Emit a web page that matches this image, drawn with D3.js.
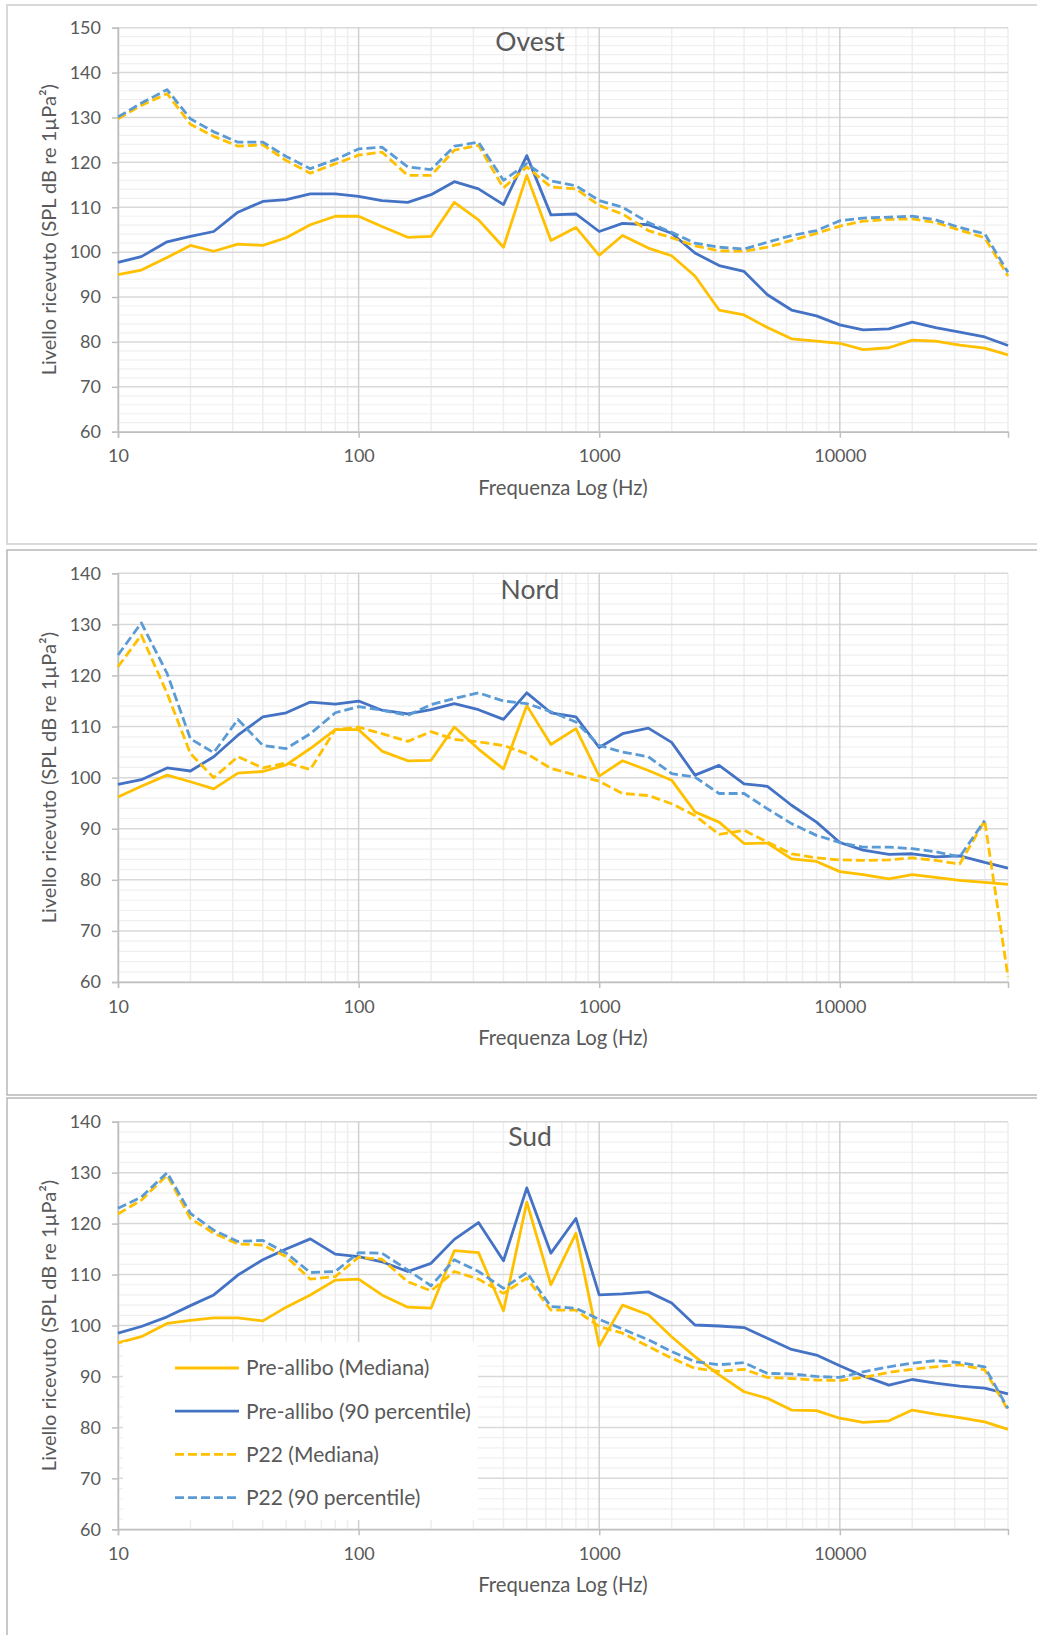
<!DOCTYPE html>
<html><head><meta charset="utf-8">
<script src="https://cdn.jsdelivr.net/npm/d3@7"></script>
<style>
body{margin:0;background:#fff}
svg{display:block}
text{font-family:Lato,"Open Sans",sans-serif;fill:#595959}
</style>
</head><body>
<svg id="chart" width="1037" height="1635"></svg>
<script>
// ---------- DATA ----------
const freqs = [10,12.5,16,20,25,31.5,40,50,63,80,100,125,160,200,250,315,400,500,630,800,1000,1250,1600,2000,2500,3150,4000,5000,6300,8000,10000,12500,16000,20000,25000,31500,40000,50000];
const seriesNames = ["Pre-allibo (Mediana)","Pre-allibo (90 percentile)","P22 (Mediana)","P22 (90 percentile)"];
const panelTitles = ["Ovest","Nord","Sud"];
const xTickLabels = [10,100,1000,10000];
const yTicksOvest = [60,70,80,90,100,110,120,130,140,150];
const yTicksNord = [60,70,80,90,100,110,120,130,140];
const yTicksSud = [60,70,80,90,100,110,120,130,140];
const xAxisTitle = "Frequenza Log (Hz)";
const yAxisTitle = "Livello ricevuto (SPL dB re 1\u00b5Pa\u00b2)";

const ovestPreMed = [95.0,96.0,98.8,101.5,100.2,101.8,101.5,103.2,106.1,108.0,108.0,105.7,103.3,103.5,111.1,107.2,101.1,117.1,102.6,105.5,99.3,103.7,100.9,99.2,94.7,87.1,86.0,83.2,80.7,80.2,79.7,78.3,78.7,80.4,80.2,79.3,78.6,77.1];
const ovestPreP90 = [97.7,99.0,102.3,103.5,104.6,108.9,111.3,111.7,113.0,113.0,112.4,111.5,111.1,112.8,115.7,114.1,110.6,121.5,108.3,108.5,104.6,106.4,106.1,104.2,99.8,97.0,95.7,90.5,87.1,85.8,83.8,82.7,82.9,84.4,83.2,82.2,81.1,79.2];
const ovestP22Med = [129.7,132.7,135.3,128.5,125.8,123.6,123.9,120.4,117.6,119.7,121.6,122.3,117.1,117.1,122.7,123.8,114.3,119.0,114.5,114.1,110.4,108.5,104.8,103.2,101.4,100.3,100.2,101.1,102.6,104.2,105.8,106.9,107.3,107.4,106.6,104.9,103.2,94.7];
const ovestP22P90 = [130.1,133.2,136.2,129.7,126.8,124.5,124.5,121.3,118.6,120.6,123.0,123.4,119.0,118.4,123.6,124.5,116.0,119.7,115.9,114.8,111.5,110.0,106.6,104.4,102.0,101.1,100.7,102.2,103.7,104.8,107.0,107.6,107.8,108.0,107.2,105.5,104.1,95.5];

const nordPreMed = [96.2,98.3,100.5,99.2,97.8,100.9,101.2,102.5,105.7,109.4,109.4,105.2,103.3,103.4,109.9,105.6,101.7,114.1,106.5,109.6,100.3,103.3,101.4,99.5,93.3,91.3,87.1,87.2,84.1,83.6,81.6,81.0,80.2,81.0,80.5,79.9,79.5,79.1];
const nordPreP90 = [98.7,99.6,101.9,101.3,104.1,108.3,111.9,112.7,114.8,114.4,115.0,113.2,112.5,113.3,114.5,113.3,111.4,116.6,112.7,111.9,105.9,108.6,109.7,106.9,100.5,102.4,98.8,98.3,94.6,91.3,87.3,85.8,85.0,85.1,84.5,84.7,83.4,82.3];
const nordP22Med = [121.7,127.9,116.5,104.7,100.0,104.1,101.9,102.9,101.6,109.4,109.9,108.6,107.1,109.0,107.5,107.0,106.3,104.7,101.8,100.5,99.3,96.9,96.5,94.9,92.6,88.9,89.7,87.4,85.1,84.3,83.9,83.8,83.9,84.3,83.8,83.1,91.6,61.0];
const nordP22P90 = [124.0,130.3,120.4,107.6,104.9,111.4,106.3,105.7,108.6,112.7,113.9,113.2,112.2,114.3,115.5,116.6,115.0,114.5,112.9,110.9,106.3,105.0,104.1,100.8,100.1,96.9,96.9,93.9,91.0,88.7,87.3,86.4,86.4,86.1,85.5,84.5,91.6,null];

const sudPreMed = [96.6,97.8,100.4,101.0,101.5,101.5,100.9,103.6,106.0,108.9,109.1,106.0,103.6,103.4,114.7,114.3,102.9,124.2,108.0,118.1,96.0,104.0,102.1,97.8,93.9,90.3,87.0,85.7,83.4,83.3,81.8,81.0,81.3,83.4,82.6,81.9,81.1,79.6];
const sudPreP90 = [98.5,99.8,101.7,103.9,106.0,109.9,112.9,115.0,117.0,114.0,113.5,112.5,110.6,112.2,116.9,120.2,112.7,127.0,114.2,121.0,106.0,106.2,106.6,104.4,100.1,99.9,99.6,97.5,95.3,94.2,92.1,90.1,88.3,89.4,88.7,88.1,87.7,86.6];
const sudP22Med = [121.9,124.6,129.5,121.0,118.1,116.0,115.8,113.5,109.1,109.6,113.4,113.0,108.6,106.8,110.6,109.1,106.3,109.3,103.0,103.0,99.8,98.5,95.9,93.6,91.6,91.0,91.4,89.8,89.6,89.3,89.2,89.8,90.8,91.4,91.9,92.3,91.3,83.4];
const sudP22P90 = [123.0,125.2,130.0,122.0,118.7,116.5,116.7,114.2,110.4,110.6,114.3,114.2,110.9,107.8,112.9,110.6,107.3,110.4,103.7,103.4,101.2,99.3,97.2,94.9,92.9,92.3,92.7,90.6,90.5,90.0,89.8,90.9,91.9,92.6,93.1,92.7,91.9,83.7];

// ---------- STYLE / LAYOUT ----------
const colors = ["#FFC000","#4472C4","#FFC000","#5B9BD5"];
const dashes = [null,null,"9,4","9,4"];
const X0 = 118, X1 = 1008;

const panels = [
  {title: panelTitles[0], series:[ovestPreMed,ovestPreP90,ovestP22Med,ovestP22P90], yMin:60, yMax:150, yTicks:yTicksOvest,
   top:27.7, bottom:431.7, box:[7,5,1100,539], boxColor:"#d9d9d9", boxW:2, titleY:50.5, legend:false},
  {title: panelTitles[1], series:[nordPreMed,nordPreP90,nordP22Med,nordP22P90], yMin:60, yMax:140, yTicks:yTicksNord,
   top:573.3, bottom:982, box:[7,550,1100,545], boxColor:"#a6a6a6", boxW:1.2, titleY:599, legend:false},
  {title: panelTitles[2], series:[sudPreMed,sudPreP90,sudP22Med,sudP22P90], yMin:60, yMax:140, yTicks:yTicksSud,
   top:1121.7, bottom:1529.3, box:[7,1098,1100,600], boxColor:"#a6a6a6", boxW:1.2, titleY:1146, legend:true}
];

const svg = d3.select("#chart");

panels.forEach(p => {
  const g = svg.append("g");
  g.append("rect").attr("x",p.box[0]).attr("y",p.box[1]).attr("width",p.box[2]).attr("height",p.box[3])
    .attr("fill","#fff").attr("stroke",p.boxColor).attr("stroke-width",p.boxW);

  const x = d3.scaleLog().domain([10,50000]).range([X0,X1]);
  const y = d3.scaleLinear().domain([p.yMin,p.yMax]).range([p.bottom,p.top]);

  // minor grid
  const minorY = d3.range(p.yMin, p.yMax+0.001, 2).filter(v => v % 10 !== 0);
  g.selectAll(".mgy").data(minorY).join("line")
    .attr("x1",X0).attr("x2",X1).attr("y1",d=>y(d)).attr("y2",d=>y(d))
    .attr("stroke","#f0f0f0").attr("stroke-width",1.2);
  const minorX = [];
  [10,100,1000,10000].forEach(dec => { for (let k=2;k<=9;k++){ const v=dec*k; if (v<=50000) minorX.push(v);} });
  g.selectAll(".mgx").data(minorX).join("line")
    .attr("x1",d=>x(d)).attr("x2",d=>x(d)).attr("y1",p.top).attr("y2",p.bottom)
    .attr("stroke","#eeeeee").attr("stroke-width",1.5);
  // major grid
  g.selectAll(".Mgy").data(p.yTicks).join("line")
    .attr("x1",X0).attr("x2",X1).attr("y1",d=>y(d)).attr("y2",d=>y(d))
    .attr("stroke","#d9d9d9").attr("stroke-width",1.5);
  g.selectAll(".Mgx").data(xTickLabels).join("line")
    .attr("x1",d=>x(d)).attr("x2",d=>x(d)).attr("y1",p.top).attr("y2",p.bottom)
    .attr("stroke","#d0d0d0").attr("stroke-width",1.5);

  // axes
  const ya = g.append("g").attr("transform",`translate(${X0},0)`)
    .call(d3.axisLeft(y).tickValues(p.yTicks).tickSize(6).tickPadding(11).tickFormat(d3.format("d")));
  const xa = g.append("g").attr("transform",`translate(0,${p.bottom})`)
    .call(d3.axisBottom(x).tickValues(xTickLabels).tickSize(6).tickPadding(12).tickFormat(d3.format("d")));
  [ya,xa].forEach(a => {
    a.select(".domain").attr("stroke","#bfbfbf").attr("stroke-width",1.5);
    a.selectAll(".tick line").attr("stroke","#bfbfbf").attr("stroke-width",1.5);
    a.selectAll(".tick text").attr("font-size",18).attr("fill","#595959").style("font-family","Lato");
  });

  // lines
  const line = d3.line().defined(d => d !== null).x((d,i)=>x(freqs[i])).y(d=>y(d));
  p.series.forEach((s,i) => {
    g.append("path").datum(s).attr("d",line).attr("fill","none")
      .attr("stroke",colors[i]).attr("stroke-width",2.8)
      .attr("stroke-linejoin","round")
      .attr("stroke-dasharray",dashes[i]);
  });

  // title
  g.append("text").attr("x",530).attr("y",p.titleY).attr("text-anchor","middle")
    .attr("font-size",26.5).text(p.title);
  // axis titles
  g.append("text").attr("x",563).attr("y",p.bottom+63).attr("text-anchor","middle")
    .attr("font-size",20.3).text(xAxisTitle);
  const cy = (p.top+p.bottom)/2;
  g.append("text").attr("transform",`translate(56,${cy}) rotate(-90)`).attr("text-anchor","middle")
    .attr("font-size",20).text(yAxisTitle);

  // legend
  if (p.legend) {
    g.append("rect").attr("x",123).attr("y",1342).attr("width",355).attr("height",178).attr("fill","#fff");
    seriesNames.forEach((n,i) => {
      const ly = 1368 + i*43.2;
      g.append("line").attr("x1",175).attr("x2",239).attr("y1",ly).attr("y2",ly)
        .attr("stroke",colors[i]).attr("stroke-width",2.8).attr("stroke-dasharray",dashes[i]);
      g.append("text").attr("x",246).attr("y",ly).attr("dy","0.35em").attr("font-size",21).text(n);
    });
  }
});
</script>
</body></html>
